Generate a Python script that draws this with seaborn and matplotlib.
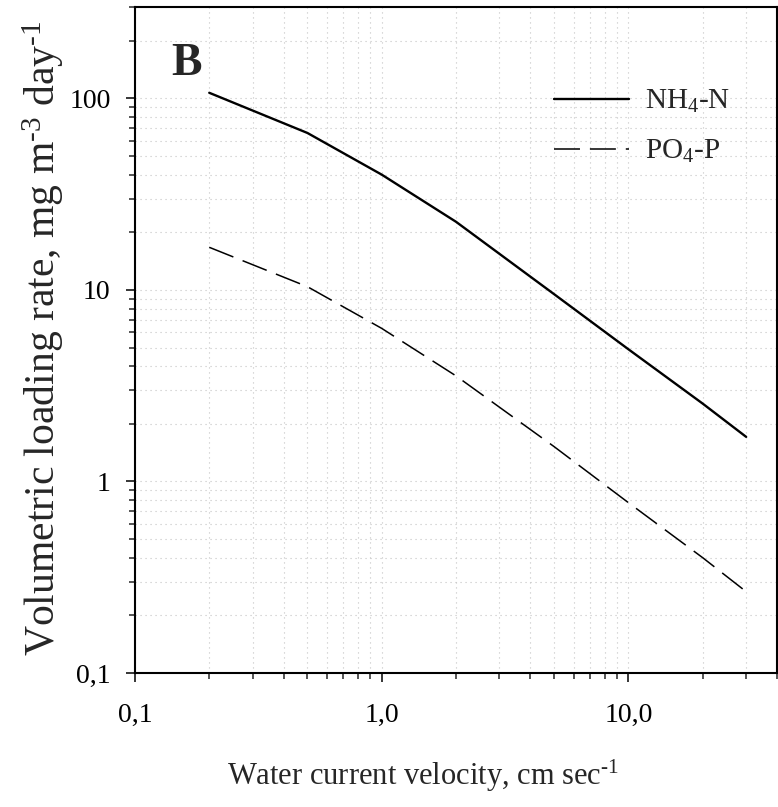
import matplotlib
matplotlib.use('Agg')
import matplotlib.pyplot as plt
import matplotlib.ticker as mticker
import seaborn as sns
import pandas as pd

# values (x in cm/s, y in mg m-3 day-1)
velocity = [0.2, 0.5, 1.0, 2.0, 5.0, 10.0, 20.0, 30.0]
nh4_rate = [107, 66, 40, 22.7, 9.5, 4.9, 2.55, 1.71]
po4_rate = [16.7, 10.4, 6.3, 3.56, 1.52, 0.775, 0.40, 0.266]

series_names = ['NH$_4$-N', 'PO$_4$-P']

x_ticks = [0.1, 1.0, 10.0]
x_tick_labels = ['0,1', '1,0', '10,0']
y_ticks = [0.1, 1, 10, 100]
y_tick_labels = ['0,1', '1', '10', '100']

df = pd.DataFrame({
    'velocity': velocity * 2,
    'rate': nh4_rate + po4_rate,
    'nutrient': [series_names[0]] * len(velocity) + [series_names[1]] * len(velocity),
})

sns.set_style('ticks')
plt.rcParams['font.family'] = ['Liberation Serif', 'DejaVu Serif']
plt.rcParams['mathtext.fontset'] = 'custom'
plt.rcParams['mathtext.rm'] = 'Liberation Serif'
plt.rcParams['mathtext.it'] = 'Liberation Serif:italic'
plt.rcParams['mathtext.bf'] = 'Liberation Serif:bold'
plt.rcParams['mathtext.default'] = 'regular'

fig = plt.figure(figsize=(7.78, 8.07), dpi=100)
ax = fig.add_axes([0.1735, 0.166, 0.8252, 0.8253])

sns.lineplot(data=df, x='velocity', y='rate', hue='nutrient', style='nutrient',
             palette=['black', 'black'],
             dashes={series_names[0]: '', series_names[1]: (17, 6.5)},
             errorbar=None, ax=ax)

lines = ax.get_lines()[:2]
lines[0].set_linewidth(1.7)
lines[1].set_linewidth(1.1)

ax.set_xscale('log')
ax.set_yscale('log')
ax.set_xlim(0.1, 40)
ax.set_ylim(0.1, 300)

ax.xaxis.set_major_locator(mticker.FixedLocator(x_ticks))
ax.xaxis.set_major_formatter(mticker.FixedFormatter(x_tick_labels))
ax.yaxis.set_major_locator(mticker.FixedLocator(y_ticks))
ax.yaxis.set_major_formatter(mticker.FixedFormatter(y_tick_labels))
ax.xaxis.set_minor_locator(mticker.LogLocator(base=10, subs=range(2, 10)))
ax.yaxis.set_minor_locator(mticker.LogLocator(base=10, subs=range(2, 10)))
ax.xaxis.set_minor_formatter(mticker.NullFormatter())
ax.yaxis.set_minor_formatter(mticker.NullFormatter())

ax.grid(True, which='both', color='#c4c4c4', linestyle=(0, (1, 3.5)), linewidth=0.8)
ax.set_axisbelow(True)

ax.tick_params(which='major', direction='out', length=6.5, width=1.1,
               labelsize=20, colors='black')
ax.tick_params(which='minor', direction='out', length=4.5, width=1.1)
ax.tick_params(axis='x', which='major', pad=15)
ax.tick_params(axis='y', which='major', pad=11)

for side in ['left', 'bottom', 'top', 'right']:
    ax.spines[side].set_visible(True)
    ax.spines[side].set_linewidth(1.5)
    ax.spines[side].set_color('black')

hy = '\u2010'
ax.set_xlabel('Water current velocity, cm sec$^{' + hy + '1}$', fontsize=22)
ax.set_ylabel('Volumetric loading rate, mg m$^{' + hy + '3}$ day$^{' + hy + '1}$',
              fontsize=30)
ax.xaxis.set_label_coords(0.448, -0.128)
ax.yaxis.set_label_coords(-0.107, 0.503)

ax.text(0.056, 0.898, 'B', transform=ax.transAxes, fontsize=33,
        fontweight='bold', va='baseline', ha='left')

ax.legend(lines, series_names, loc='upper left', bbox_to_anchor=(0.652, 0.878),
          frameon=False, fontsize=21, handlelength=2.6, handletextpad=0.55,
          labelspacing=0.78, borderpad=0, borderaxespad=0)

plt.savefig('out.png', dpi=100)
plt.close()
